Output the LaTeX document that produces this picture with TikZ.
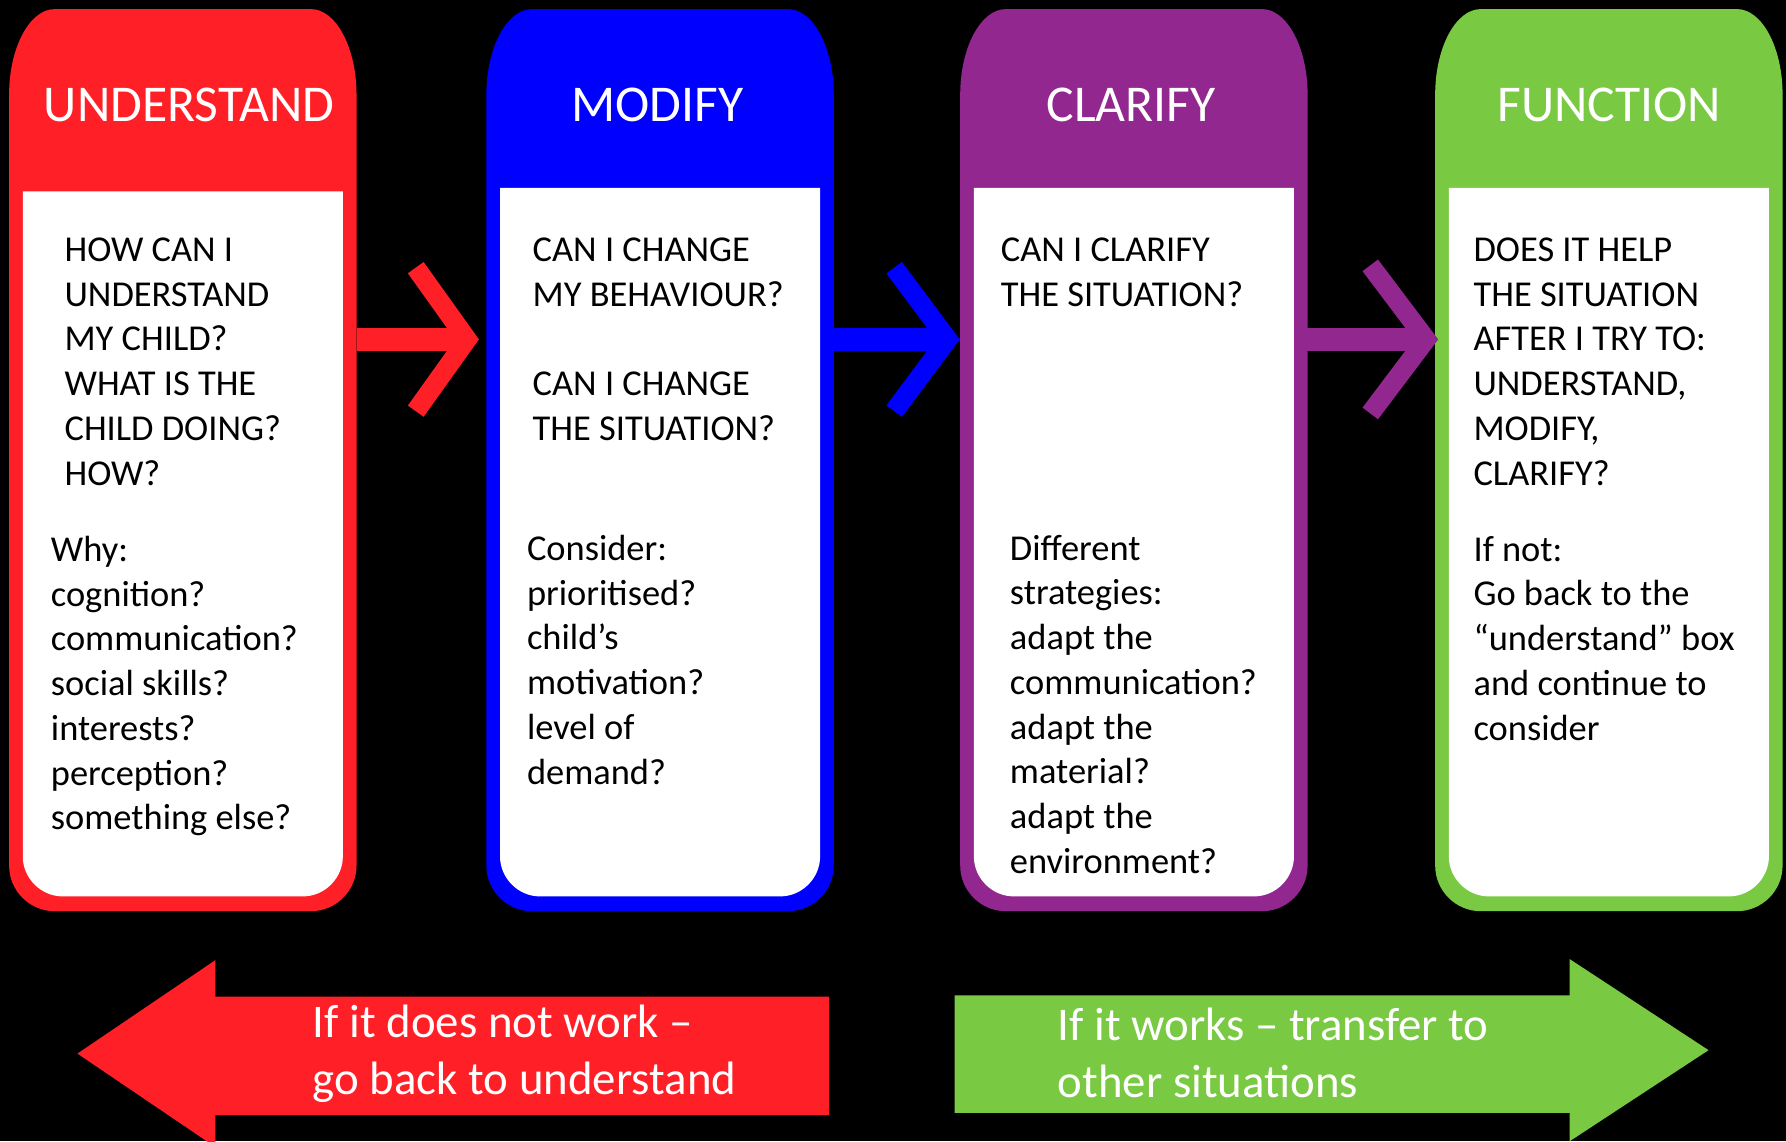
\documentclass[tikz,border=0pt]{standalone}
\usepackage{fontspec}
\setmainfont{Carlito}
\usepackage{tikz}
\usetikzlibrary{calc}
\definecolor{redstep}{RGB}{255,31,38}
\definecolor{bluestep}{RGB}{0,0,255}
\definecolor{purplestep}{RGB}{146,39,143}
\definecolor{greenstep}{RGB}{122,201,67}
\tikzstyle{title} =[text=white, inner sep=0pt, font=\fontsize{12.9}{15.7}\selectfont]
\tikzstyle{body} =[anchor=north west, align=left, inner sep=0pt, font=\fontsize{9.1}{11.18}\selectfont]
\tikzstyle{banner} =[anchor=north west, align=left, inner sep=0pt, text=white, font=\fontsize{11.7}{14.2}\selectfont]
\tikzstyle{shaft} =[line width=2mm]
\tikzstyle{chevron} =[line width=1.7mm, miter limit=4]
% coloured column with its white panel: #1 = left edge, #2 = colour, #3 = panel top
\newcommand{\stagecol}[3]{%
	\fill[#2] (#1,760) -- (#1,83) .. controls (#1,42) and ({#1+18},8) .. ({#1+40},8)
		-- ({#1+265},8) .. controls ({#1+287},8) and ({#1+305},42) .. ({#1+305},83)
		-- ({#1+305},760) .. controls ({#1+305},782) and ({#1+287},800) .. ({#1+265},800)
		-- ({#1+40},800) .. controls ({#1+18},800) and (#1,782) .. (#1,760) -- cycle;
	\fill[white] ({#1+12},#3) -- ({#1+293},#3) -- ({#1+293},752)
		.. controls ({#1+293},771) and ({#1+277},787) .. ({#1+258},787)
		-- ({#1+47},787) .. controls ({#1+28},787) and ({#1+12},771) .. ({#1+12},752) -- cycle;
}

\begin{document}
\begin{tikzpicture}[x=0.1mm, y=-0.1mm]
		\useasboundingbox (0,0) rectangle (1568,1002);
		\fill[black] (0,0) rectangle (1568,1002);
		
		\stagecol{8}{redstep}{168}
		\stagecol{427}{bluestep}{165}
		\stagecol{843}{purplestep}{165}
		\stagecol{1260}{greenstep}{165}
		
		\node (under)[title] at (166,92) {UNDERSTAND};
		\node (modify)[title] at (577,92) {MODIFY};
		\node (clarify)[title] at (993,92) {CLARIFY};
		\node (function)[title] at (1413,92) {FUNCTION};
		
		\node (under-q)[body] at (56,208) {HOW CAN I\\UNDERSTAND\\MY CHILD?\\WHAT IS THE\\CHILD DOING?\\HOW?};
		\node (under-why)[body] at (44,470) {Why:\\cognition?\\communication?\\social skills?\\interests?\\perception?\\something else?};
		\node (modify-q)[body] at (467,208) {CAN I CHANGE\\MY BEHAVIOUR?\\[11.18pt]CAN I CHANGE\\THE SITUATION?};
		\node (modify-con)[body] at (462,469) {Consider:\\prioritised?\\child’s\\motivation?\\level of\\demand?};
		\node (clarify-q)[body] at (878,208) {CAN I CLARIFY\\THE SITUATION?};
		\node (clarify-dif)[body] at (886,469) {Different\\strategies:\\adapt the\\communication?\\adapt the\\material?\\adapt the\\environment?};
		\node (function-q)[body] at (1293,208) {DOES IT HELP\\THE SITUATION\\AFTER I TRY TO:\\UNDERSTAND,\\MODIFY,\\CLARIFY?};
		\node (function-not)[body] at (1293,470) {If not:\\Go back to the\\“understand” box\\and continue to\\consider};
		
		% column edges at arrow height
		\coordinate (under-e) at (313,298);
		\coordinate (modify-w) at (427,298);
		\coordinate (modify-e) at (730,298);
		\coordinate (clarify-w) at (843,298);
		\coordinate (clarify-e) at (1147,298);
		\coordinate (function-w) at (1260,298);
		
		\draw[shaft, redstep] (under-e) -- ($(modify-w)+(-17,0)$);
		\draw[chevron, redstep] ($(modify-w)+(-62,-63)$) -- ($(modify-w)+(-17,0)$) -- ($(modify-w)+(-62,63)$);
		\draw[shaft, bluestep] (modify-e) -- ($(clarify-w)+(-11,0)$);
		\draw[chevron, bluestep] ($(clarify-w)+(-58,-63)$) -- ($(clarify-w)+(-11,0)$) -- ($(clarify-w)+(-58,63)$);
		\draw[shaft, purplestep] (clarify-e) -- ($(function-w)+(-8,0)$);
		\draw[chevron, purplestep] ($(function-w)+(-57,-65)$) -- ($(function-w)+(-8,0)$) -- ($(function-w)+(-57,65)$);
		
		% big arrows below
		\fill[redstep] (68,925) -- (189,843) -- (189,875) -- (728,875) -- (728,979) -- (189,979) -- (189,1007) -- cycle;
		\fill[greenstep] (838,874) -- (1378,874) -- (1378,842) -- (1500,922) -- (1378,1002) -- (1378,977) -- (838,977) -- cycle;
		\node (back)[banner] at (274,882) {If it does not work –\\go back to understand};
		\node (transfer)[banner] at (928,884) {If it works – transfer to\\other situations};
		\end{tikzpicture}
\end{document}
